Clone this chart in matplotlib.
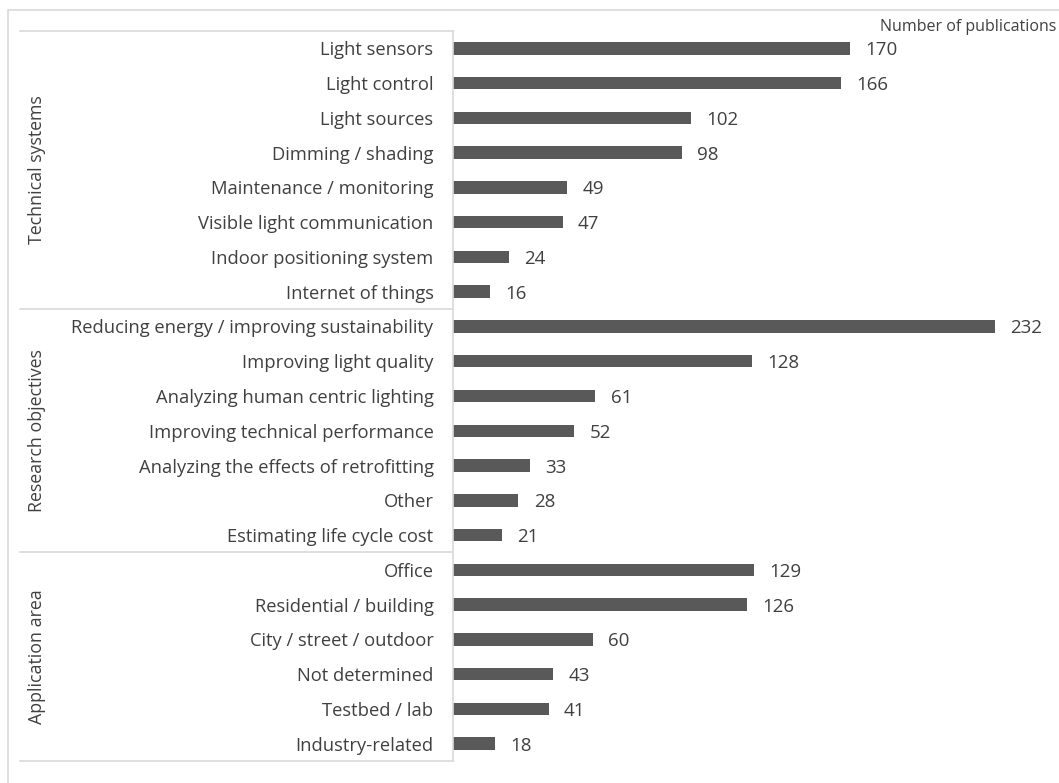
import matplotlib
matplotlib.use("Agg")
import matplotlib.pyplot as plt
import matplotlib.transforms as mtransforms
from matplotlib.patches import Rectangle

categories = [
    "Light sensors", "Light control", "Light sources", "Dimming / shading",
    "Maintenance / monitoring", "Visible light communication",
    "Indoor positioning system", "Internet of things",
    "Reducing energy / improving sustainability", "Improving light quality",
    "Analyzing human centric lighting", "Improving technical performance",
    "Analyzing the effects of retrofitting", "Other", "Estimating life cycle cost",
    "Office", "Residential / building", "City / street / outdoor",
    "Not determined", "Testbed / lab", "Industry-related",
]
values = [170, 166, 102, 98, 49, 47, 24, 16,
          232, 128, 61, 52, 33, 28, 21,
          129, 126, 60, 43, 41, 18]
groups = ["Technical systems", "Research objectives", "Application area"]
group_sizes = [8, 7, 6]

plt.rcParams["font.family"] = ["Open Sans", "DejaVu Sans"]
TXT = "#404040"
GRID = "#d9d9d9"
BAR = "#595959"

W, H = 1059, 783
fig = plt.figure(figsize=(W / 100, H / 100), dpi=100)
left, right, top, bottom = 453, 1040, 31, 761
ax = fig.add_axes([left / W, 1 - bottom / H, (right - left) / W, (bottom - top) / H])

y = list(range(len(categories)))
ax.barh(y, values, height=0.36, color=BAR)
for yi, v in zip(y, values):
    ax.annotate(str(v), (v, yi), xytext=(11, 0), textcoords="offset points",
                va="center_baseline", ha="left", fontsize=13.5, color=TXT)

ax.set_ylim(len(categories) - 0.5, -0.5)
ax.set_xlim(0, (right - left) / 2.336)
ax.set_yticks(y)
ax.set_yticklabels(categories, fontsize=13.2, color=TXT, va="center_baseline")
ax.tick_params(axis="y", length=0, pad=14)
ax.set_xticks([])
for s in ["top", "right", "bottom"]:
    ax.spines[s].set_visible(False)
ax.spines["left"].set_color(GRID)
ax.spines["left"].set_linewidth(1.2)

# group separators and rotated group labels
trans = mtransforms.blended_transform_factory(fig.transFigure, ax.transData)
x0, x1 = 20 / W, left / W
start = -0.5
ax.plot([x0, x1], [start, start], transform=trans, color=GRID, lw=1.2, clip_on=False)
for g, n in zip(groups, group_sizes):
    end = start + n
    ax.plot([x0, x1], [end, end], transform=trans, color=GRID, lw=1.2, clip_on=False)
    ax.text(37 / W, (start + end) / 2, g, transform=trans, rotation=90,
            ha="center", va="center", fontsize=12.8, color=TXT)
    start = end

fig.text(1056 / W, 1 - 27 / H, "Number of publications", ha="right", va="center",
         fontsize=11.5, color=TXT)
fig.patches.append(Rectangle((8 / W, -0.1), 1.2, 1 - 10 / H + 0.1, transform=fig.transFigure,
                             fill=False, edgecolor=GRID, lw=1.2))

fig.savefig("out.png", dpi=100)
